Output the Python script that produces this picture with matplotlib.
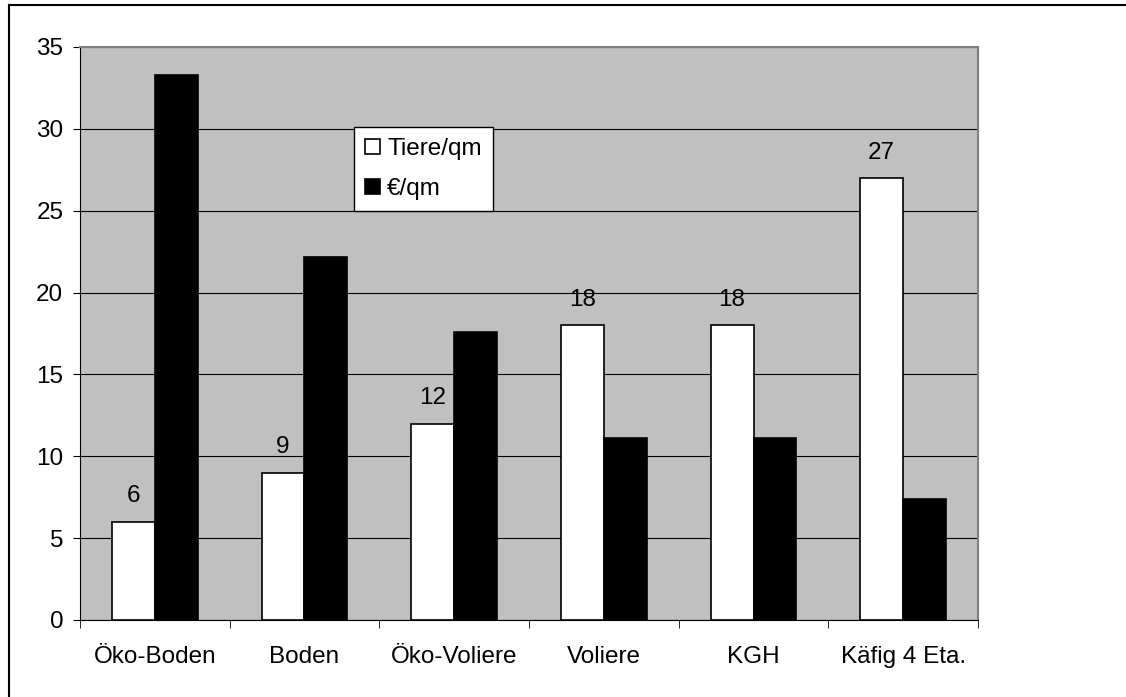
import matplotlib
matplotlib.use("Agg")
import matplotlib.pyplot as plt
import numpy as np
from matplotlib.lines import Line2D

plt.rcParams['font.family'] = ['Liberation Sans', 'DejaVu Sans']

kategorien = ['Öko-Boden', 'Boden', 'Öko-Voliere', 'Voliere', 'KGH', 'Käfig 4 Eta.']
tiere_qm = [6, 9, 12, 18, 18, 27]
euro_qm = [33.3, 22.2, 17.6, 11.1, 11.1, 7.4]

fs = 17.5

fig = plt.figure(figsize=(11.26, 6.97), dpi=100)
ax = fig.add_axes([0.0710, 0.1105, 0.7976, 0.8221])

x = np.arange(len(kategorien))
w = 0.287
ax.bar(x - w / 2, tiere_qm, w, color='white', edgecolor='black', linewidth=1.2, label='Tiere/qm', zorder=3)
ax.bar(x + w / 2, euro_qm, w, color='black', edgecolor='black', linewidth=1.2, label='€/qm', zorder=3)

# Werte über den weißen Balken
for xi, v in zip(x, tiere_qm):
    ax.annotate(str(v), (xi - w / 2, v), xytext=(0, 14), textcoords='offset points',
                ha='center', va='baseline', fontsize=fs)

ax.set_facecolor('#c0c0c0')
ax.set_xlim(-0.5, len(kategorien) - 0.5)
ax.set_ylim(0, 35)
ax.set_yticks(np.arange(0, 36, 5))
ax.tick_params(axis='y', labelsize=fs, length=5, direction='out', pad=7)
ax.yaxis.grid(True, color='black', linewidth=0.8, zorder=1)
ax.set_axisbelow(True)

ax.set_xticks(x)
ax.set_xticklabels(kategorien, fontsize=fs)
ax.tick_params(axis='x', length=0, pad=19)
ax.set_xticks(np.arange(-0.5, len(kategorien)), minor=True)
ax.tick_params(axis='x', which='minor', length=6, direction='out', color='black')

for s in ['top', 'right']:
    ax.spines[s].set_color('#808080')
    ax.spines[s].set_linewidth(1.5)
ax.spines['left'].set_color('black')
ax.spines['bottom'].set_color('black')

leg = ax.legend(loc='upper left', bbox_to_anchor=(0.305, 0.860), fontsize=fs,
                frameon=True, fancybox=False, edgecolor='black', framealpha=1,
                borderaxespad=0, handlelength=0.62, handleheight=0.62, handletextpad=0.3,
                labelspacing=0.74, borderpad=0.45)
leg.get_frame().set_linewidth(1.0)

# Rahmen um das Diagramm (oben und links sichtbar)
fig.add_artist(Line2D([0.008, 1.0], [0.9925, 0.9925], transform=fig.transFigure, color='black', linewidth=1.5))
fig.add_artist(Line2D([0.008, 0.008], [0.0, 0.9925], transform=fig.transFigure, color='black', linewidth=1.5))

fig.savefig('out.png', dpi=100)
